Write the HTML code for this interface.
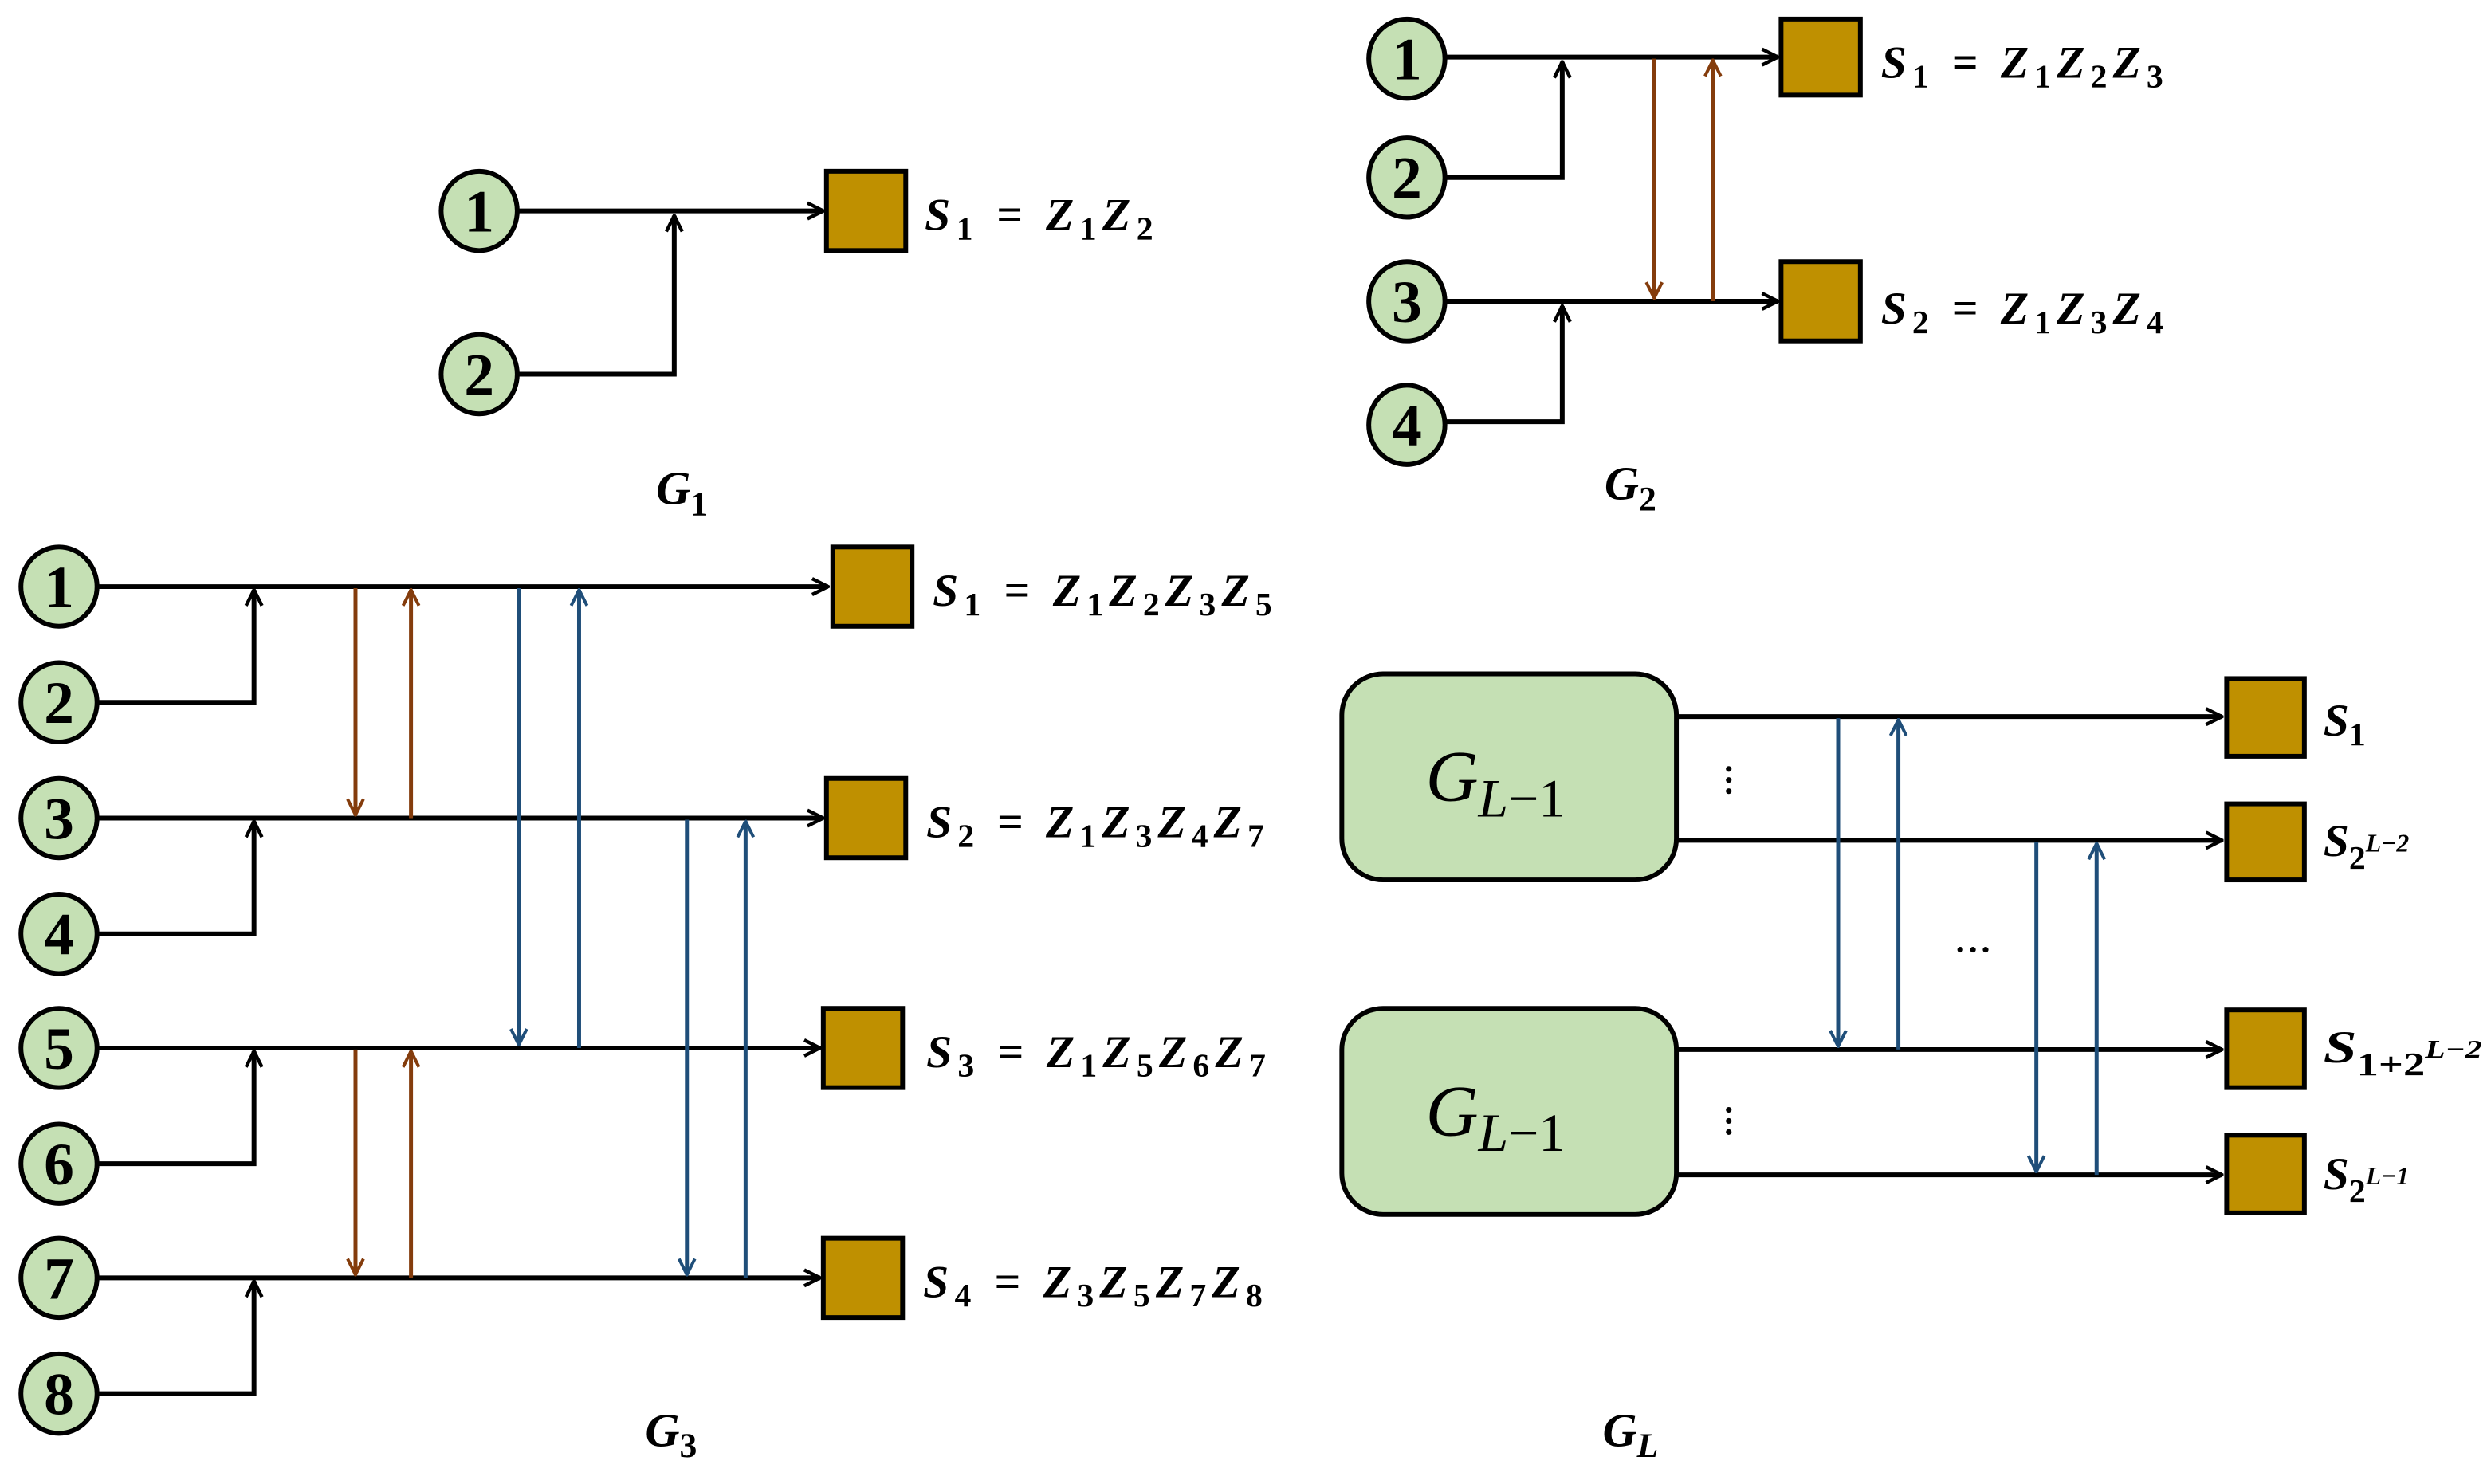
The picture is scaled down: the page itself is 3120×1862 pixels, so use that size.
<!DOCTYPE html>
<html><head><meta charset="utf-8"><style>
html,body{margin:0;padding:0;background:#fff}
svg{display:block}
.n{font-family:"Liberation Serif",serif;font-weight:bold;font-size:38px;text-anchor:middle}
.m{font-family:"Liberation Serif",serif;font-style:italic;font-weight:bold;font-size:29px}
.m tspan.s{font-style:normal;font-size:21px}
.g{font-family:"Liberation Serif",serif;font-style:italic;font-weight:bold;font-size:30px;text-anchor:middle}
.b{font-family:"Liberation Serif",serif;font-style:italic;font-size:46px;text-anchor:middle}
</style></head><body>
<svg width="3120" height="1862" viewBox="0 0 1568 936" xmlns="http://www.w3.org/2000/svg">
<defs>
<marker id="ak" viewBox="0 0 12 12" refX="11" refY="6" markerWidth="12" markerHeight="12" markerUnits="userSpaceOnUse" orient="auto"><path d="M1,1 L11,6 L1,11" fill="none" stroke="#000" stroke-width="2.2"/></marker>
<marker id="ar" viewBox="0 0 12 12" refX="11" refY="6" markerWidth="12" markerHeight="12" markerUnits="userSpaceOnUse" orient="auto"><path d="M1,1 L11,6 L1,11" fill="none" stroke="#843c0c" stroke-width="2"/></marker>
<marker id="ab" viewBox="0 0 12 12" refX="11" refY="6" markerWidth="12" markerHeight="12" markerUnits="userSpaceOnUse" orient="auto"><path d="M1,1 L11,6 L1,11" fill="none" stroke="#1f4e79" stroke-width="2"/></marker>
</defs>
<g fill="none" stroke-width="3">
<g stroke="#000" marker-end="url(#ak)">
<path d="M327,133 H519"/><path d="M327,236 H425 V136"/>
<path d="M912,36 H1121"/><path d="M912,112 H985 V39"/>
<path d="M912,190 H1121"/><path d="M912,266 H985 V193"/>
<path d="M62,370 H522"/><path d="M62,443 H160 V372"/>
<path d="M62,516 H519"/><path d="M62,589 H160 V518"/>
<path d="M62,661 H517"/><path d="M62,734 H160 V663"/>
<path d="M62,806 H517"/><path d="M62,879 H160 V808"/>
<path d="M1057,452 H1401"/><path d="M1057,530 H1401"/>
<path d="M1057,662 H1401"/><path d="M1057,741 H1401"/>
</g>
<g stroke="#843c0c" stroke-width="2.5" marker-end="url(#ar)">
<path d="M1043,37 V188"/><path d="M1080,190 V38"/>
<path d="M224,371 V514"/><path d="M259,516 V372"/>
<path d="M224,662 V804"/><path d="M259,806 V663"/>
</g>
<g stroke="#1f4e79" stroke-width="2.5" marker-end="url(#ab)">
<path d="M327,371 V659"/><path d="M365,661 V372"/>
<path d="M433,517 V804"/><path d="M470,806 V518"/>
<path d="M1159,453 V660"/><path d="M1197,662 V454"/>
<path d="M1284,531 V739"/><path d="M1322,741 V532"/>
</g>
</g>
<g fill="#c5e0b4" stroke="#000" stroke-width="3">
<ellipse cx="302" cy="133" rx="24" ry="25"/><ellipse cx="302" cy="236" rx="24" ry="25"/>
<ellipse cx="887" cy="37" rx="24" ry="25"/><ellipse cx="887" cy="112" rx="24" ry="25"/>
<ellipse cx="887" cy="190" rx="24" ry="25"/><ellipse cx="887" cy="268" rx="24" ry="25"/>
<ellipse cx="37" cy="370" rx="24" ry="25"/><ellipse cx="37" cy="443" rx="24" ry="25"/>
<ellipse cx="37" cy="516" rx="24" ry="25"/><ellipse cx="37" cy="589" rx="24" ry="25"/>
<ellipse cx="37" cy="661" rx="24" ry="25"/><ellipse cx="37" cy="734" rx="24" ry="25"/>
<ellipse cx="37" cy="806" rx="24" ry="25"/><ellipse cx="37" cy="879" rx="24" ry="25"/>
<rect x="846" y="425" width="211" height="130" rx="26"/>
<rect x="846" y="636" width="211" height="130" rx="26"/>
</g>
<g class="n">
<text x="302" y="146">1</text><text x="302" y="249">2</text>
<text x="887" y="50">1</text><text x="887" y="125">2</text><text x="887" y="203">3</text><text x="887" y="281">4</text>
<text x="37" y="383">1</text><text x="37" y="456">2</text><text x="37" y="529">3</text><text x="37" y="602">4</text>
<text x="37" y="674">5</text><text x="37" y="747">6</text><text x="37" y="819">7</text><text x="37" y="892">8</text>
</g>
<g fill="#bf9000" stroke="#000" stroke-width="3">
<rect x="521" y="108" width="50" height="50"/>
<rect x="1123" y="12" width="50" height="48"/><rect x="1123" y="165" width="50" height="50"/>
<rect x="525" y="345" width="50" height="50"/><rect x="521" y="491" width="50" height="50"/>
<rect x="519" y="636" width="50" height="50"/><rect x="519" y="781" width="50" height="50"/>
<rect x="1404" y="428" width="49" height="49"/><rect x="1404" y="507" width="49" height="48"/>
<rect x="1404" y="637" width="49" height="49"/><rect x="1404" y="716" width="49" height="49"/>
</g>
<g class="m">
<text x="583" y="145" textLength="144" lengthAdjust="spacing">S<tspan class="s" dy="6">1</tspan><tspan dy="-6"> = Z</tspan><tspan class="s" dy="6">1</tspan><tspan dy="-6">Z</tspan><tspan class="s" dy="6">2</tspan></text>
<text x="1186" y="49" textLength="178" lengthAdjust="spacing">S<tspan class="s" dy="6">1</tspan><tspan dy="-6"> = Z</tspan><tspan class="s" dy="6">1</tspan><tspan dy="-6">Z</tspan><tspan class="s" dy="6">2</tspan><tspan dy="-6">Z</tspan><tspan class="s" dy="6">3</tspan></text>
<text x="1186" y="204" textLength="178" lengthAdjust="spacing">S<tspan class="s" dy="6">2</tspan><tspan dy="-6"> = Z</tspan><tspan class="s" dy="6">1</tspan><tspan dy="-6">Z</tspan><tspan class="s" dy="6">3</tspan><tspan dy="-6">Z</tspan><tspan class="s" dy="6">4</tspan></text>
<text x="588" y="382" textLength="214" lengthAdjust="spacing">S<tspan class="s" dy="6">1</tspan><tspan dy="-6"> = Z</tspan><tspan class="s" dy="6">1</tspan><tspan dy="-6">Z</tspan><tspan class="s" dy="6">2</tspan><tspan dy="-6">Z</tspan><tspan class="s" dy="6">3</tspan><tspan dy="-6">Z</tspan><tspan class="s" dy="6">5</tspan></text>
<text x="584" y="528" textLength="213" lengthAdjust="spacing">S<tspan class="s" dy="6">2</tspan><tspan dy="-6"> = Z</tspan><tspan class="s" dy="6">1</tspan><tspan dy="-6">Z</tspan><tspan class="s" dy="6">3</tspan><tspan dy="-6">Z</tspan><tspan class="s" dy="6">4</tspan><tspan dy="-6">Z</tspan><tspan class="s" dy="6">7</tspan></text>
<text x="584" y="673" textLength="214" lengthAdjust="spacing">S<tspan class="s" dy="6">3</tspan><tspan dy="-6"> = Z</tspan><tspan class="s" dy="6">1</tspan><tspan dy="-6">Z</tspan><tspan class="s" dy="6">5</tspan><tspan dy="-6">Z</tspan><tspan class="s" dy="6">6</tspan><tspan dy="-6">Z</tspan><tspan class="s" dy="6">7</tspan></text>
<text x="582" y="818" textLength="214" lengthAdjust="spacing">S<tspan class="s" dy="6">4</tspan><tspan dy="-6"> = Z</tspan><tspan class="s" dy="6">3</tspan><tspan dy="-6">Z</tspan><tspan class="s" dy="6">5</tspan><tspan dy="-6">Z</tspan><tspan class="s" dy="6">7</tspan><tspan dy="-6">Z</tspan><tspan class="s" dy="6">8</tspan></text>
<text x="1465" y="464">S<tspan class="s" dy="6">1</tspan></text>
<text x="1465" y="540">S<tspan class="s" dy="8">2</tspan><tspan font-size="16" dy="-11">L−2</tspan></text>
<text x="1465" y="670" textLength="100" lengthAdjust="spacingAndGlyphs">S<tspan class="s" dy="8">1+2</tspan><tspan font-size="16" dy="-11">L−2</tspan></text>
<text x="1465" y="750">S<tspan class="s" dy="8">2</tspan><tspan font-size="16" dy="-11">L−1</tspan></text>
</g>
<g class="g">
<text x="430" y="318">G<tspan font-size="22" font-style="normal" dy="7">1</tspan></text>
<text x="1028" y="315">G<tspan font-size="22" font-style="normal" dy="7">2</tspan></text>
<text x="423" y="912">G<tspan font-size="22" font-style="normal" dy="7">3</tspan></text>
<text x="1028" y="912">G<tspan font-size="22" dy="7">L</tspan></text>
</g>
<g class="b">
<text x="943" y="505">G<tspan font-size="34" dy="10">L</tspan><tspan font-size="34" font-style="normal">−1</tspan></text>
<text x="943" y="716">G<tspan font-size="34" dy="10">L</tspan><tspan font-size="34" font-style="normal">−1</tspan></text>
</g>
<g fill="#000">
<circle cx="1090" cy="485" r="1.8"/><circle cx="1090" cy="492" r="1.8"/><circle cx="1090" cy="499" r="1.8"/>
<circle cx="1090" cy="700" r="1.8"/><circle cx="1090" cy="707" r="1.8"/><circle cx="1090" cy="714" r="1.8"/>
<circle cx="1236" cy="599" r="1.8"/><circle cx="1244" cy="599" r="1.8"/><circle cx="1252" cy="599" r="1.8"/>
</g>
</svg>
</body></html>
